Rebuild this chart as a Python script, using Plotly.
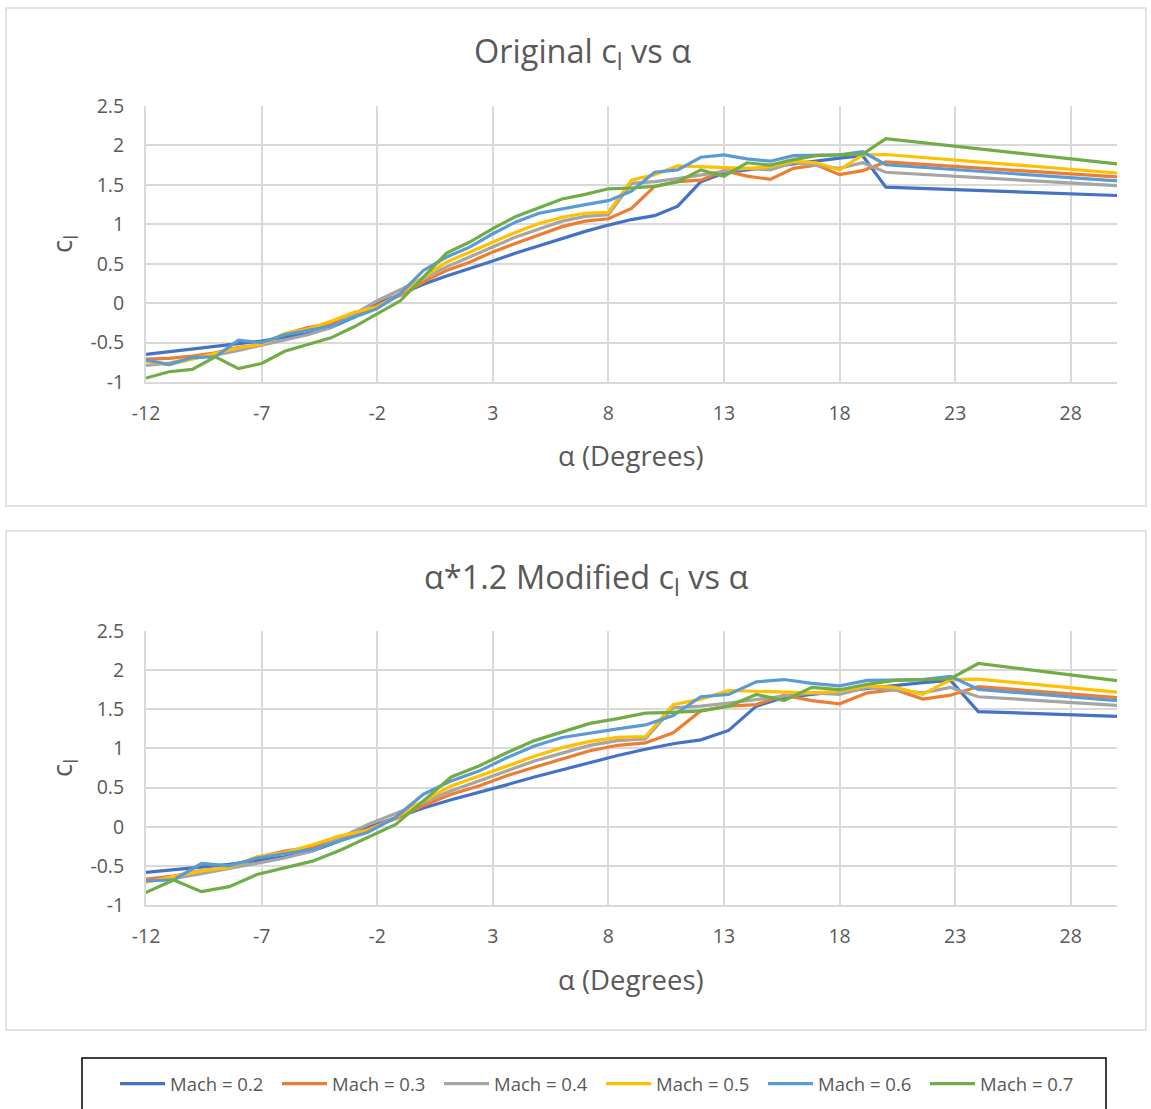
import plotly.graph_objects as go

# Angle of attack (degrees) and lift coefficient per Mach number
alpha = list(range(-12, 21)) + [30]

mach_labels = ["Mach = 0.2", "Mach = 0.3", "Mach = 0.4", "Mach = 0.5", "Mach = 0.6", "Mach = 0.7"]
colors = ["#4472C4", "#ED7D31", "#A5A5A5", "#FFC000", "#5B9BD5", "#70AD47"]

cl_m02 = [-0.65, -0.615, -0.585, -0.555, -0.52, -0.48, -0.43, -0.385, -0.31, -0.18, -0.01,
          0.12, 0.24, 0.345, 0.435, 0.535, 0.635, 0.73, 0.82, 0.91, 0.99, 1.06, 1.11,
          1.23, 1.54, 1.65, 1.69, 1.73, 1.77, 1.81, 1.84, 1.87, 1.47, 1.365]
cl_m03 = [-0.71, -0.70, -0.67, -0.63, -0.56, -0.53, -0.39, -0.31, -0.26, -0.16, -0.03,
          0.10, 0.27, 0.415, 0.52, 0.65, 0.76, 0.87, 0.97, 1.04, 1.07, 1.20, 1.48,
          1.54, 1.56, 1.68, 1.61, 1.57, 1.71, 1.75, 1.63, 1.68, 1.79, 1.60]
cl_m04 = [-0.79, -0.76, -0.70, -0.66, -0.60, -0.53, -0.46, -0.40, -0.31, -0.14, 0.03,
          0.17, 0.31, 0.46, 0.585, 0.71, 0.84, 0.94, 1.04, 1.10, 1.12, 1.52, 1.54,
          1.58, 1.63, 1.67, 1.71, 1.69, 1.78, 1.75, 1.71, 1.78, 1.66, 1.49]
cl_m05 = [-0.735, -0.78, -0.71, -0.64, -0.565, -0.52, -0.385, -0.33, -0.23, -0.115, -0.05,
          0.12, 0.33, 0.52, 0.65, 0.775, 0.90, 1.01, 1.09, 1.14, 1.15, 1.56, 1.63,
          1.74, 1.73, 1.72, 1.71, 1.73, 1.80, 1.78, 1.69, 1.88, 1.885, 1.65]
cl_m06 = [-0.72, -0.78, -0.69, -0.68, -0.47, -0.50, -0.40, -0.35, -0.29, -0.18, -0.07,
          0.12, 0.415, 0.585, 0.71, 0.88, 1.03, 1.14, 1.20, 1.25, 1.30, 1.42, 1.66,
          1.69, 1.85, 1.88, 1.83, 1.80, 1.87, 1.87, 1.88, 1.92, 1.755, 1.55]
cl_m07 = [-0.95, -0.87, -0.84, -0.68, -0.83, -0.765, -0.61, -0.53, -0.44, -0.30, -0.14,
          0.03, 0.33, 0.635, 0.775, 0.945, 1.10, 1.21, 1.32, 1.38, 1.45, 1.46, 1.48,
          1.54, 1.69, 1.61, 1.78, 1.75, 1.82, 1.87, 1.88, 1.89, 2.085, 1.767]
cl_series = [cl_m02, cl_m03, cl_m04, cl_m05, cl_m06, cl_m07]

# Modified curves: angle scaled by 1.2, with their own end value at 30 degrees
alpha_scale = 1.2
alpha_end_mod = 30
cl_end_mod = [1.41, 1.65, 1.55, 1.72, 1.61, 1.865]

x_tick_vals = [-12, -7, -2, 3, 8, 13, 18, 23, 28]
x_tick_text = ["-12", "-7", "-2", "3", "8", "13", "18", "23", "28"]
y_tick_vals = [-1, -0.5, 0, 0.5, 1, 1.5, 2, 2.5]
y_tick_text = ["-1", "-0.5", "0", "0.5", "1", "1.5", "2", "2.5"]

W, H = 1151, 1109
FONT = "Open Sans"
TXT = "#595959"
GRID = "#D9D9D9"


def px_x(p):
    return p / W


def px_y(p):
    return 1 - p / H


fig = go.Figure()

alpha_mod = [a * alpha_scale for a in alpha[:-1]] + [alpha_end_mod]
for name, col, cl, cl_end in zip(mach_labels, colors, cl_series, cl_end_mod):
    fig.add_trace(go.Scatter(x=alpha, y=cl, mode="lines", name=name,
                             line=dict(color=col, width=3.2), xaxis="x", yaxis="y",
                             legendgroup=name, showlegend=True))
    fig.add_trace(go.Scatter(x=alpha_mod, y=cl[:-1] + [cl_end], mode="lines", name=name,
                             line=dict(color=col, width=3.2), xaxis="x2", yaxis="y2",
                             legendgroup=name, showlegend=False))

axis_common = dict(showgrid=True, gridcolor=GRID, gridwidth=2, zeroline=False,
                   showline=True, linecolor=GRID, linewidth=2, automargin=False,
                   ticks="outside", tickcolor="rgba(0,0,0,0)",
                   tickfont=dict(family=FONT, size=19.5, color=TXT), fixedrange=True)

xdom = [px_x(146), px_x(1117)]
fig.update_layout(
    width=W, height=H,
    margin=dict(l=0, r=0, t=0, b=0, autoexpand=False),
    paper_bgcolor="white", plot_bgcolor="white",
    xaxis=dict(domain=xdom, anchor="y", range=[-12, 30], tickvals=x_tick_vals,
               ticktext=x_tick_text, ticklen=13, **axis_common),
    yaxis=dict(domain=[px_y(382), px_y(106)], anchor="x", range=[-1, 2.5],
               tickvals=y_tick_vals, ticktext=y_tick_text, ticklen=16, **axis_common),
    xaxis2=dict(domain=xdom, anchor="y2", range=[-12, 30], tickvals=x_tick_vals,
                ticktext=x_tick_text, ticklen=13, **axis_common),
    yaxis2=dict(domain=[px_y(905), px_y(631)], anchor="x2", range=[-1, 2.5],
                tickvals=y_tick_vals, ticktext=y_tick_text, ticklen=16, **axis_common),
    showlegend=True,
    legend=dict(orientation="h", x=px_x(115), y=px_y(1084), xanchor="left", yanchor="middle",
                entrywidth=102, entrywidthmode="pixels", itemwidth=45,
                font=dict(family=FONT, size=18.5, color=TXT), bgcolor="rgba(0,0,0,0)",
                traceorder="normal"),
)

# Chart area borders and legend frame
shapes = [
    dict(type="rect", xref="paper", yref="paper", x0=px_x(6), x1=px_x(1146),
         y0=px_y(506), y1=px_y(8), line=dict(color=GRID, width=1.5)),
    dict(type="rect", xref="paper", yref="paper", x0=px_x(6), x1=px_x(1146),
         y0=px_y(1030), y1=px_y(531), line=dict(color=GRID, width=1.5)),
    dict(type="rect", xref="paper", yref="paper", x0=px_x(82), x1=px_x(1106),
         y0=px_y(1112), y1=px_y(1058), line=dict(color="#000000", width=1.5)),
]
fig.update_layout(shapes=shapes)

title_font = dict(family=FONT, size=32.5, color=TXT)
label_font = dict(family=FONT, size=27.5, color=TXT)
annotations = [
    dict(text="Original c<sub>l</sub> vs α", x=px_x(582), y=px_y(53), font=title_font),
    dict(text="α*1.2 Modified c<sub>l</sub> vs α", x=px_x(586), y=px_y(578), font=title_font),
    dict(text="α (Degrees)", x=px_x(631), y=px_y(455), font=label_font),
    dict(text="α (Degrees)", x=px_x(631), y=px_y(979), font=label_font),
    dict(text="c<sub>l</sub>", x=px_x(63), y=px_y(244), font=label_font, textangle=-90),
    dict(text="c<sub>l</sub>", x=px_x(63), y=px_y(768), font=label_font, textangle=-90),
]
for a in annotations:
    a.update(xref="paper", yref="paper", showarrow=False, xanchor="center", yanchor="middle")
fig.update_layout(annotations=annotations)

fig.write_html("out.html")
